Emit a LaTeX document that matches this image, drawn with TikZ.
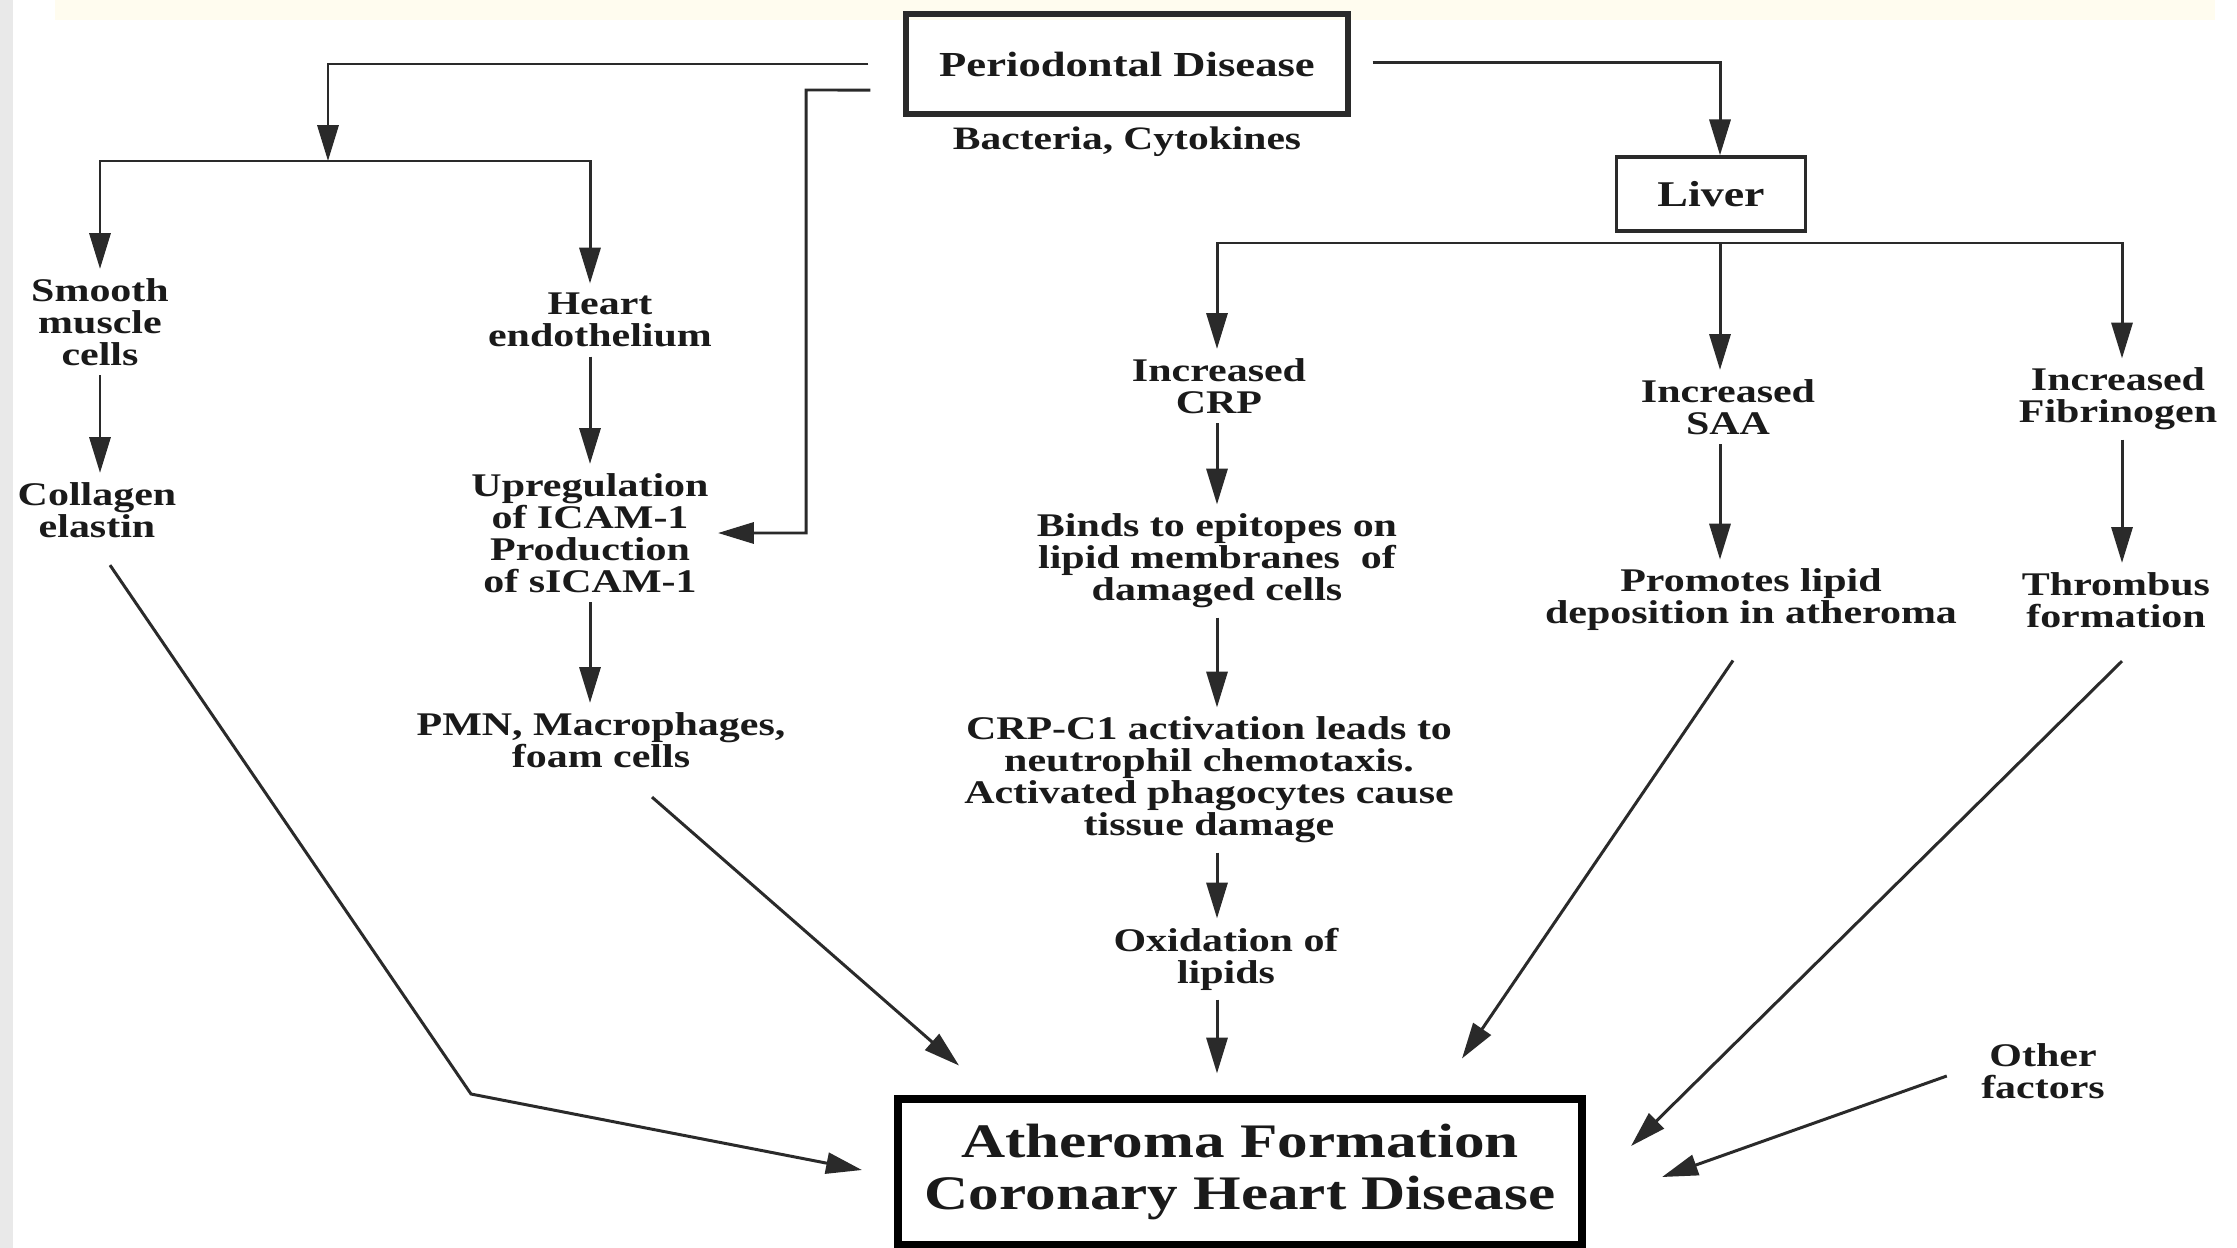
\documentclass[tikz,border=0pt]{standalone}
\usepackage{fontspec}
\setmainfont{Liberation Serif}[FakeStretch=1.27]
\usetikzlibrary{arrows.meta}

\definecolor{ink}{HTML}{1A1A1A}
\definecolor{wire}{HTML}{2A2A2A}
\definecolor{edgegray}{HTML}{E9E9E9}
\definecolor{creamband}{HTML}{FFFCEF}

\begin{document}
\begin{tikzpicture}[x=0.2845pt,y=-0.2845pt,
  every node/.style={text=ink},
  lbl/.style={align=center, inner sep=2.5pt,
    font=\bfseries\fontsize{9.4}{9.1}\selectfont},
  link/.style={draw=wire, line width=0.85pt},
  arr/.style={link, -{Triangle[length=10.2pt,width=6pt]}},
  pdbox/.style={draw=wire, line width=1.5pt, minimum width=125.7pt,
    minimum height=28.5pt, inner sep=0pt,
    font=\bfseries\fontsize{10}{11}\selectfont},
  liverbox/.style={draw=wire, line width=1pt, minimum width=53.8pt,
    minimum height=21pt, inner sep=0pt,
    font=\bfseries\fontsize{10.3}{11}\selectfont},
  athbox/.style={draw=black, line width=2.3pt, minimum width=194.6pt,
    minimum height=41.8pt, inner sep=0pt, align=center,
    font=\bfseries\fontsize{13.7}{14.8}\selectfont}
]
% canvas
\useasboundingbox (0,0) rectangle (2237,1248);
\fill[white] (0,0) rectangle (2237,1248);
\fill[edgegray] (0,0) rectangle (13,1248);
\fill[creamband] (55,0) rectangle (2215,20);

% column guides for the vertical arrows
\coordinate (cA) at (100,0);
\coordinate (cB) at (590,0);
\coordinate (cC) at (1217,0);
\coordinate (cD) at (1720,0);
\coordinate (cE) at (2122,0);

% source
\node[pdbox] (pd) at (1127,64) {Periodontal Disease};
\node[lbl, font=\bfseries\fontsize{9.3}{10}\selectfont] (bc) at (1127,142) {Bacteria, Cytokines};

% liver branch
\node[liverbox] (liver) at (1711,194) {Liver};

% left branch texts
\node[lbl] (smc) at (100,322) {Smooth\\muscle\\cells};
\node[lbl] (col) at (97,510) {Collagen\\elastin};
\node[lbl] (he)  at (600,320) {Heart\\endothelium};
\node[lbl] (up)  at (590,533) {Upregulation\\of ICAM-1\\Production\\of sICAM-1};
\node[lbl] (pmn) at (601,740) {PMN, Macrophages,\\foam cells};

% CRP chain
\node[lbl] (crp)  at (1219,386) {Increased\\CRP};
\node[lbl] (bind) at (1217,561) {Binds to epitopes on\\lipid membranes\ \ of\\damaged cells};
\node[lbl] (crpc) at (1209,780) {CRP-C1 activation leads to\\neutrophil chemotaxis.\\Activated phagocytes cause\\tissue damage};
\node[lbl] (ox)   at (1226,959) {Oxidation of\\lipids};

% SAA and fibrinogen chains
\node[lbl] (saa) at (1728,407) {Increased\\SAA};
\node[lbl] (pl)  at (1751,600) {Promotes lipid\\deposition in atheroma};
\node[lbl] (fib) at (2118,399) {Increased\\Fibrinogen};
\node[lbl] (thr) at (2116,600) {Thrombus\\formation};
\node[lbl] (oth) at (2043,1071) {Other\\factors};

% outcome
\node[athbox] (ath) at (1240,1172) {Atheroma Formation\\Coronary Heart Disease};

% split points
\coordinate (split1) at (328,161);
\coordinate (split2) at (1720,243);
\coordinate (fb) at (806,90);
\coordinate (kA) at (471,1094);

% from periodontal disease
\draw[arr] ([xshift=-10pt]pd.west) -| (split1);
\draw[arr] (split1) -| (cA |- smc.north);
\draw[arr] (split1) -| (cB |- he.north);
\draw[arr] ([xshift=-9.4pt,yshift=-7.4pt]pd.west) -- (fb) |- (up.east);
\draw[arr] ([xshift=6.3pt,yshift=0.5pt]pd.east) -| (cD |- liver.north);

% liver fan-out
\draw[link] (cC |- split2) -- (cE |- split2);
\draw[arr] (split2) -| (cC |- crp.north);
\draw[arr] (split2) -- (cD |- saa.north);
\draw[arr] (split2) -| (cE |- fib.north);

% vertical chains
\draw[arr] (cA |- smc.south) -- (cA |- col.north);
\draw[arr] (cB |- he.south) -- (cB |- up.north);
\draw[arr] (cB |- up.south) -- (cB |- pmn.north);
\draw[arr] (cC |- crp.south) -- (cC |- bind.north);
\draw[arr] (cC |- bind.south) -- (cC |- crpc.north);
\draw[arr] (cC |- crpc.south) -- (cC |- ox.north);
\draw[arr] (cD |- saa.south) -- (cD |- pl.north);
\draw[arr] (cE |- fib.south) -- (cE |- thr.north);

% converging on the outcome
\draw[arr] (cC |- ox.south) -- ([yshift=6pt]cC |- ath.north);
\draw[arr] ([shift={(13,18)}]col.south) -- (kA) -- ([shift={(-32,-2)}]ath.west);
\draw[arr] ([shift={(51,20)}]pmn.south) -- ([shift={(-281,-29)}]ath.north);
\draw[arr] ([shift={(-18,20)}]pl.south) -- ([shift={(222,-36)}]ath.north);
\draw[arr] ([shift={(6,24)}]thr.south) -- ([shift={(45,-26)}]ath.east);
\draw[arr] ([shift={(-25,5)}]oth.west) -- ([shift={(76,5)}]ath.east);
\end{tikzpicture}
\end{document}
